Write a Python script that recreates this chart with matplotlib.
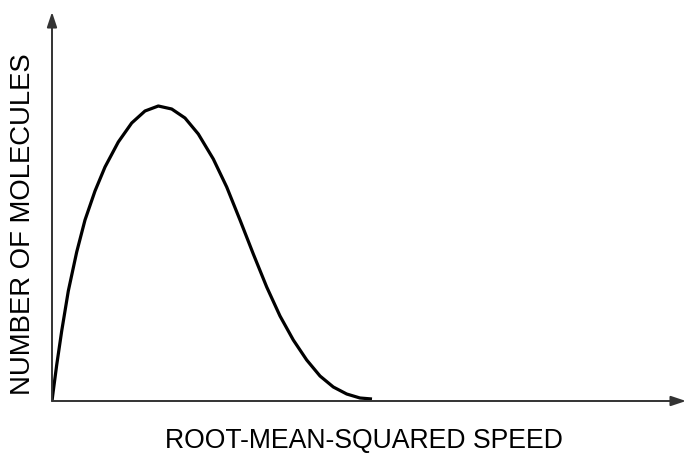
import matplotlib
matplotlib.use("Agg")
import matplotlib.pyplot as plt

# curve (speed, number of molecules), arbitrary units
speed = [0, 1, 4.7, 9.7, 16.3, 24.7, 33, 43, 53, 66.3, 79.7, 93, 106.3,
         119.7, 133, 146.3, 161.3, 174.7, 188, 201.3, 214.7, 228, 241.3,
         254.7, 268, 281.3, 294.7, 308, 320]
molecules = [0, 8, 36, 70, 110, 149, 181, 210, 234, 259, 278, 290, 295,
             292, 283, 267, 242, 214, 181, 147, 114, 85, 61, 41, 25, 14, 7,
             3, 2]

x_label = "ROOT-MEAN-SQUARED SPEED"
y_label = "NUMBER OF MOLECULES"

plt.rcParams['font.family'] = ['Liberation Sans', 'DejaVu Sans']

fig = plt.figure(figsize=(6.87, 4.54), dpi=100)
ax = fig.add_axes([52 / 687, 53 / 454, 634 / 687, 389 / 454])
ax.set_xlim(0, 634)
ax.set_ylim(0, 389)

ax.plot(speed, molecules, color="black", linewidth=2.3,
        solid_joinstyle="round", solid_capstyle="butt")

for s in ax.spines.values():
    s.set_visible(False)
ax.set_xticks([])
ax.set_yticks([])

# axes with arrow heads
axis_color = "#333333"
arrow = dict(arrowstyle="-|>,head_length=0.9,head_width=0.3",
             color=axis_color, lw=1.4, shrinkA=0, shrinkB=0)
ax.annotate("", xy=(1.0, 0), xytext=(0, 0), xycoords="axes fraction",
            arrowprops=arrow)
ax.annotate("", xy=(0, 1.0), xytext=(0, 0), xycoords="axes fraction",
            arrowprops=arrow)

fig.text(364 / 687, 1 - 441 / 454, x_label, ha="center", va="center",
         fontsize=19.2, color="black")
fig.text(23 / 687, 1 - 224 / 454, y_label, ha="center", va="center",
         rotation=90, fontsize=19.8, color="black")

fig.savefig("out.png", dpi=100)
